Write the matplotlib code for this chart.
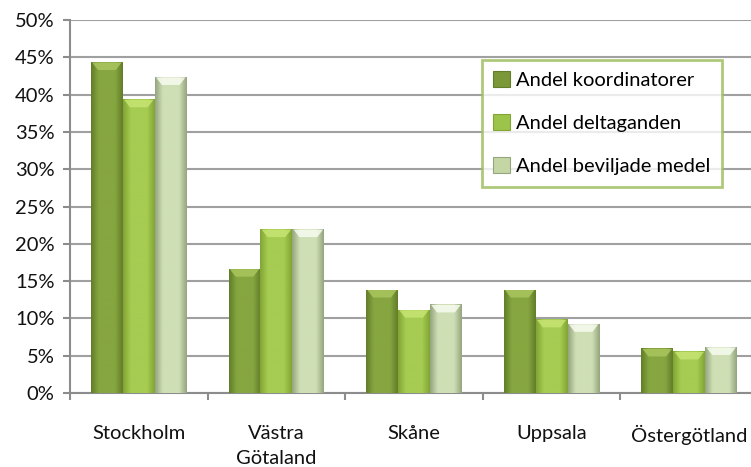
import numpy as np
import matplotlib
matplotlib.use("Agg")
import matplotlib.pyplot as plt
from matplotlib.patches import Patch, Polygon
from matplotlib.colors import LinearSegmentedColormap

categories = ["Stockholm", "Västra\nGötaland", "Skåne", "Uppsala", "Östergötland"]
series_names = ["Andel koordinatorer", "Andel deltaganden", "Andel beviljade medel"]
koordinatorer = [44.3, 16.6, 13.8, 13.8, 5.9]
deltaganden = [39.3, 21.9, 11.1, 9.8, 5.5]
beviljade = [42.3, 21.9, 11.8, 9.2, 6.1]
yticks = [0, 5, 10, 15, 20, 25, 30, 35, 40, 45, 50]

series = [koordinatorer, deltaganden, beviljade]
# edge, center colours for horizontal gradients
grad = [("#627e2a", "#86a641"), ("#82a534", "#a6cc52"), ("#95a57f", "#cfdfb5")]
mid = ["#7a9838", "#9cc34a", "#c4d6a4"]
tops = ["#aac65e", "#c6e472", "#f8fcf0"]

plt.rcParams['font.family'] = ['Lato', 'DejaVu Sans']
fig = plt.figure(figsize=(7.51, 4.67), dpi=100)
ax = fig.add_axes([70/751, (467-393)/467, 688/751, 373/467])

x = np.arange(len(categories))
w = 0.232
gradient = np.concatenate([np.linspace(0, 1, 40), np.linspace(1, 0, 40)])[None, :]
for i, vals in enumerate(series):
    bars = ax.bar(x + (i - 1) * w, vals, width=w, color=mid[i], zorder=3,
                  edgecolor="none", label=series_names[i])
    cmap = LinearSegmentedColormap.from_list("g%d" % i, [grad[i][0], grad[i][1], grad[i][1]])
    for b in bars:
        x0, y0 = b.get_x(), b.get_y()
        bw, bh = b.get_width(), b.get_height()
        ax.imshow(gradient, cmap=cmap, extent=(x0, x0 + bw, y0, y0 + bh),
                  aspect='auto', zorder=4, interpolation='bilinear')
        top = y0 + bh
        bev = [(x0 + bw * 0.04, top), (x0 + bw * 0.96, top),
               (x0 + bw * 0.78, top - 1.0), (x0 + bw * 0.22, top - 1.0)]
        ax.add_patch(Polygon(bev, closed=True, color=tops[i], alpha=0.85,
                             zorder=5, lw=0))

ax.set_xlim(-0.5, len(categories) - 0.5)
ax.set_ylim(0, 50)
ax.set_yticks(yticks)
ax.set_yticklabels([f"{v}%" for v in yticks], fontsize=14.5, color="#111111")
ax.set_xticks(x)
ax.set_xticklabels(categories, fontsize=14.5, color="#111111", linespacing=1.6)
ax.tick_params(axis='x', which='major', length=0, pad=23)
ax.set_xticks(np.arange(len(categories) + 1) - 0.5, minor=True)
ax.tick_params(axis='x', which='minor', length=5, width=1.5, color="#8c8c8c", direction='out')
ax.tick_params(axis='y', length=5, width=1.5, color="#8c8c8c", direction='out', pad=6)

ax.grid(axis='y', color="#a0a0a0", linewidth=1.5, zorder=0)
ax.set_axisbelow(True)
for s in ["top", "right"]:
    ax.spines[s].set_visible(False)
for s in ["left", "bottom"]:
    ax.spines[s].set_color("#8c8c8c")
    ax.spines[s].set_linewidth(1.5)

handles = [Patch(facecolor=mid[i], edgecolor=grad[i][0], linewidth=0.8) for i in range(3)]
leg = ax.legend(handles, series_names, loc='upper left',
                bbox_to_anchor=(482/751, (467-60)/467), bbox_transform=fig.transFigure,
                fontsize=14.5, frameon=True, fancybox=False, handlelength=0.85,
                handleheight=0.85, handletextpad=0.3, labelspacing=1.25,
                borderpad=0.55, borderaxespad=0)
leg.get_frame().set_edgecolor("#9bbb59")
leg.get_frame().set_linewidth(2)
leg.set_zorder(10)

fig.savefig("out.png", dpi=100)
